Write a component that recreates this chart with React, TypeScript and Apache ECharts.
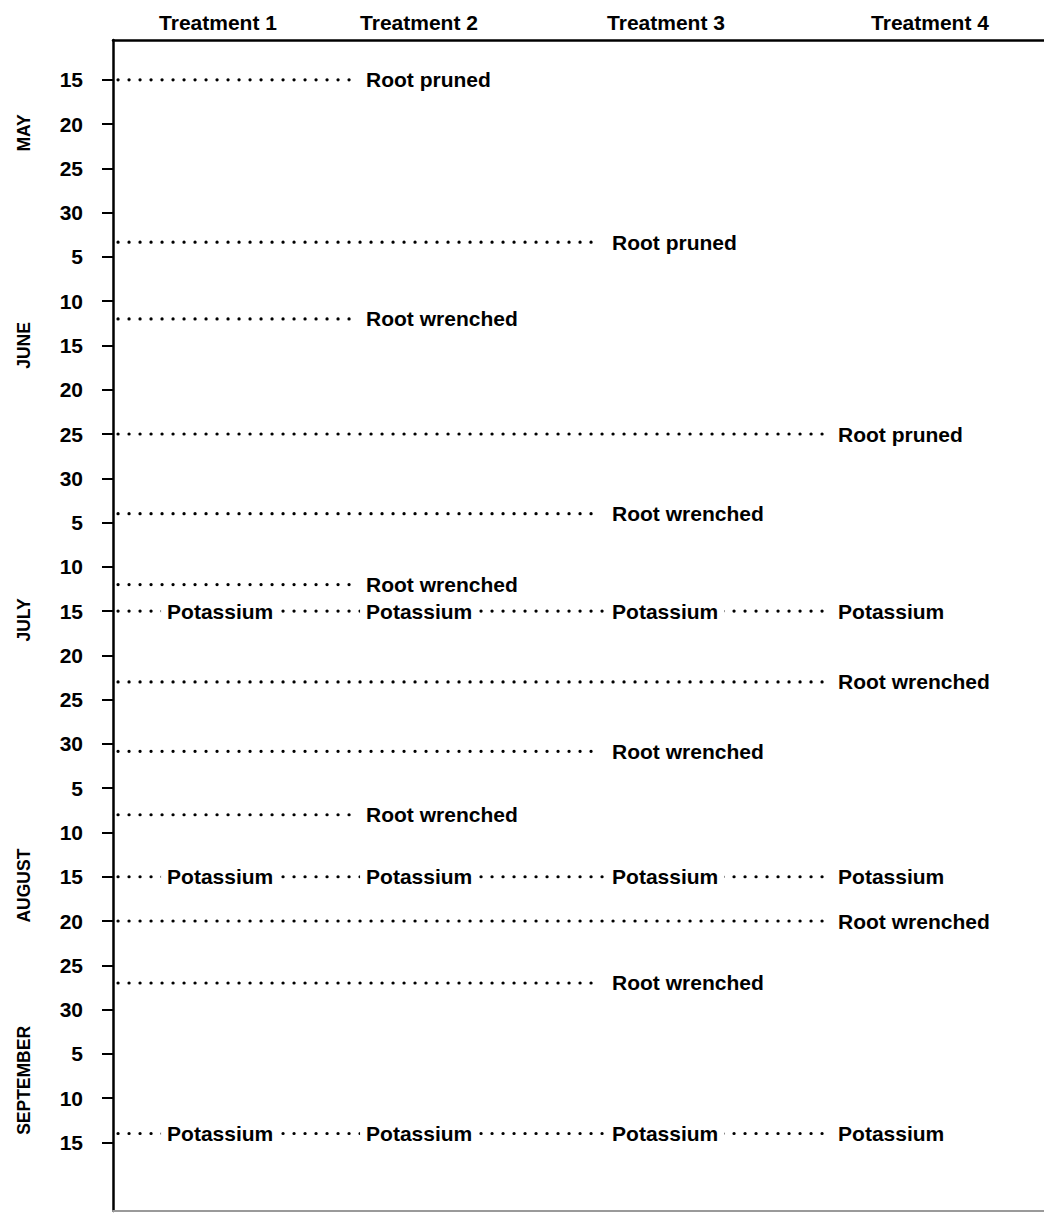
import React, { useEffect, useRef } from 'react';
import * as echarts from 'echarts';

// ---------- data ----------
const treatments = ['Treatment 1', 'Treatment 2', 'Treatment 3', 'Treatment 4'];

const tickDates = [
  '05-15', '05-20', '05-25', '05-30',
  '06-05', '06-10', '06-15', '06-20', '06-25', '06-30',
  '07-05', '07-10', '07-15', '07-20', '07-25', '07-30',
  '08-05', '08-10', '08-15', '08-20', '08-25', '08-30',
  '09-05', '09-10', '09-15',
];
const tickLabels = [
  '15', '20', '25', '30',
  '5', '10', '15', '20', '25', '30',
  '5', '10', '15', '20', '25', '30',
  '5', '10', '15', '20', '25', '30',
  '5', '10', '15',
];

const monthNames = ['MAY', 'JUNE', 'JULY', 'AUGUST', 'SEPTEMBER'];
const monthLabelDates = ['05-21', '06-15', '07-16', '08-16', '09-08'];

// root operations: date, text, last treatment the dotted line runs through
const rootEventDates = ['05-15', '06-03', '06-12', '06-25', '07-04', '07-12', '07-23', '07-31', '08-08', '08-20', '08-27'];
const rootEventLabels = [
  'Root pruned', 'Root pruned', 'Root wrenched', 'Root pruned', 'Root wrenched', 'Root wrenched',
  'Root wrenched', 'Root wrenched', 'Root wrenched', 'Root wrenched', 'Root wrenched',
];
const rootEventLastTreatment = [1, 2, 1, 3, 2, 1, 3, 2, 1, 3, 2];

// potassium applied to all treatments
const potassiumDates = ['07-15', '08-15', '09-14'];
const potassiumLabel = 'Potassium';

// ---------- layout (not data) ----------
const W = 1044;
const H = 1213;
const GRID_LEFT = 113;
const X_MAX = W - GRID_LEFT;
const colStart = [54, 253, 499, 725]; // label start of each treatment column (x-axis units)
const headerCenter = [105, 306, 553, 817];
const LINE_START = 5;

const FONT = '"Liberation Sans", Arial, Helvetica, sans-serif';
const INK = '#000';

const monthOffset: Record<string, number> = { '05': 120, '06': 151, '07': 181, '08': 212, '09': 243 };
const doy = (s: string) => monthOffset[s.slice(0, 2)] + parseInt(s.slice(3), 10);
const tickDoy = tickDates.map(doy);
const toPos = (s: string) => {
  const d = doy(s);
  for (let i = 0; i < tickDoy.length - 1; i++) {
    if (d <= tickDoy[i + 1]) return i + (d - tickDoy[i]) / (tickDoy[i + 1] - tickDoy[i]);
  }
  const n = tickDoy.length - 1;
  return n + (d - tickDoy[n]) / (tickDoy[n] - tickDoy[n - 1]);
};
const nearestIndex = (arr: number[], v: number) => {
  let best = 0;
  for (let i = 1; i < arr.length; i++) if (Math.abs(arr[i] - v) < Math.abs(arr[best] - v)) best = i;
  return best;
};

const yTickPos = tickDates.map(toPos);
const monthPos = monthLabelDates.map(toPos);

const dotStyle = { color: INK, width: 3.2, type: [0.1, 10.9], cap: 'round' as const, opacity: 1 };
const textStyle = { fontFamily: FONT, fontSize: 21, fontWeight: 'bold' as const, color: INK, opacity: 1 };

function buildOption() {
  const series: any[] = [];
  rootEventDates.forEach((d, i) => {
    const y = toPos(d);
    series.push({
      type: 'line', xAxisIndex: 0, yAxisIndex: 0, symbol: 'none', silent: true, z: 2,
      lineStyle: dotStyle,
      data: [[LINE_START, y], [colStart[rootEventLastTreatment[i]] - 12, y]],
    });
  });
  potassiumDates.forEach((d) => {
    const y = toPos(d);
    series.push({
      type: 'line', xAxisIndex: 0, yAxisIndex: 0, symbol: 'none', silent: true, z: 2,
      lineStyle: dotStyle,
      data: [[LINE_START, y], [colStart[3] - 8, y]],
    });
  });
  series.push({
    type: 'scatter', xAxisIndex: 0, yAxisIndex: 0, symbolSize: 0.1, silent: true, z: 10,
    itemStyle: { color: '#fff', opacity: 1 },
    label: { show: true, position: 'right', distance: 0, ...textStyle },
    data: rootEventDates.map((d, i) => ({
      value: [colStart[rootEventLastTreatment[i]], toPos(d)],
      label: { formatter: rootEventLabels[i] },
    })),
  });
  const potData: any[] = [];
  potassiumDates.forEach((d) => {
    treatments.forEach((_, k) => {
      potData.push({ value: [colStart[k] - 6, toPos(d)], label: { formatter: potassiumLabel } });
    });
  });
  series.push({
    type: 'scatter', xAxisIndex: 0, yAxisIndex: 0, symbolSize: 0.1, silent: true, z: 10,
    itemStyle: { color: '#fff', opacity: 1 },
    label: {
      show: true, position: 'right', distance: 0, ...textStyle,
      backgroundColor: '#ffffff', padding: [2, 6, 2, 6],
    },
    data: potData,
  });

  return {
    animation: false,
    backgroundColor: '#ffffff',
    grid: { left: GRID_LEFT, right: 0, top: 40, bottom: 2 },
    xAxis: [
      {
        type: 'value', position: 'bottom', min: 0, max: X_MAX,
        axisLine: { show: true, onZero: false, lineStyle: { color: '#9a9a9a', width: 2 } },
        axisTick: { show: false }, axisLabel: { show: false }, splitLine: { show: false },
      },
      {
        type: 'value', position: 'top', min: 0, max: X_MAX,
        axisLine: { show: true, onZero: false, lineStyle: { color: INK, width: 2.5 } },
        axisTick: { show: false }, splitLine: { show: false },
        axisLabel: {
          customValues: headerCenter,
          formatter: (v: number) => treatments[nearestIndex(headerCenter, v)],
          margin: 7, ...textStyle,
        },
      },
    ],
    yAxis: [
      {
        type: 'value', position: 'left', inverse: true, min: -0.9, max: 25.55,
        axisLine: { show: true, onZero: false, lineStyle: { color: INK, width: 2.5 } },
        axisTick: { show: true, customValues: yTickPos, length: 11, lineStyle: { color: INK, width: 2 } },
        axisLabel: {
          customValues: yTickPos,
          formatter: (v: number) => tickLabels[nearestIndex(yTickPos, v)],
          margin: 30, ...textStyle,
        },
        splitLine: { show: false },
      },
      {
        type: 'value', position: 'left', inverse: true, min: -0.9, max: 25.55, offset: 0,
        axisLine: { show: false }, axisTick: { show: false }, splitLine: { show: false },
        axisLabel: {
          customValues: monthPos,
          formatter: (v: number) => monthNames[nearestIndex(monthPos, v)],
          rotate: 90, margin: 80,
          fontFamily: FONT, fontSize: 17.5, fontWeight: 'bold', color: INK,
        },
      },
    ],
    series,
  };
}

export default function App() {
  const ref = useRef<HTMLDivElement>(null);
  useEffect(() => {
    if (!ref.current) return;
    const chart = echarts.init(ref.current, null, { renderer: 'svg' });
    chart.setOption(buildOption() as any);
    return () => chart.dispose();
  }, []);
  return (
    <div
      ref={ref}
      style={{ position: 'absolute', left: 0, top: 0, width: W, height: H, background: '#fff' }}
    />
  );
}
